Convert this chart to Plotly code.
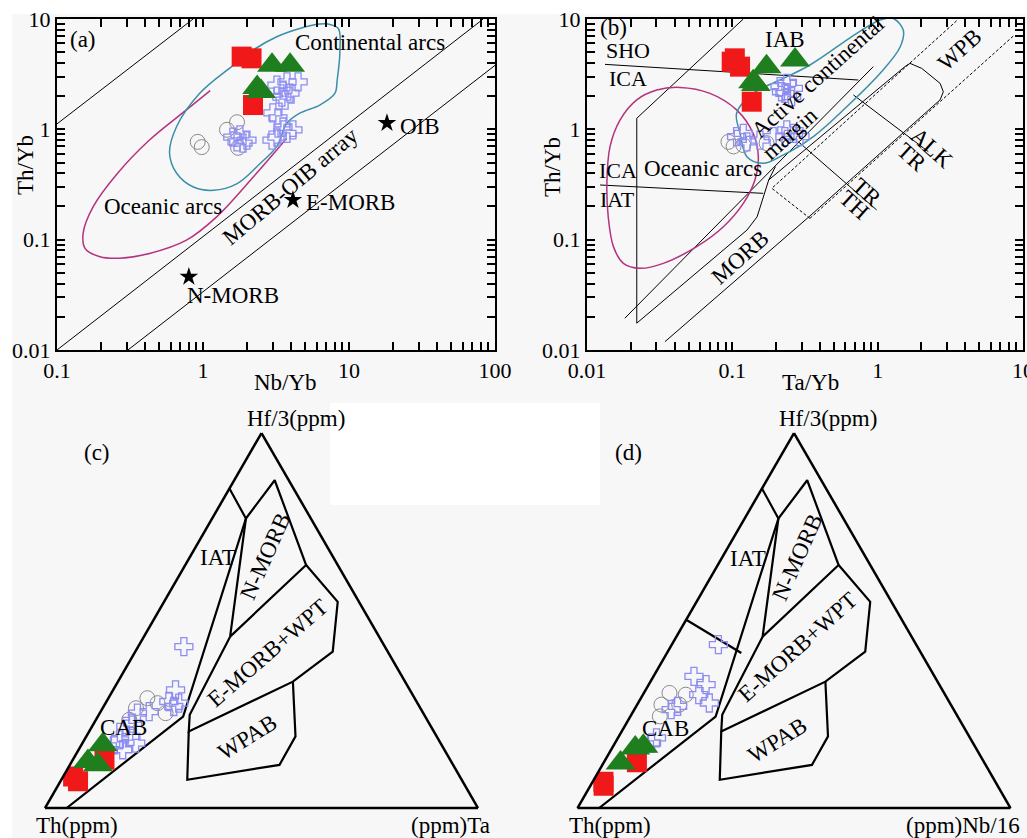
import math
import plotly.graph_objects as go

FONT = "Liberation Serif, Times New Roman, serif"
RED = "#f01818"
GREEN = "#1f7f1f"
BLUE = "#8c8cf2"
GRAY = "#8a8a8a"
MAGENTA = "#b4327e"
TEAL = "#3a8fa8"
W, H = 1027, 838

# ---------------- Panel (a): Nb/Yb vs Th/Yb ----------------
a_sq_x = [1.84, 2.15, 2.2]
a_sq_y = [4.56, 4.4, 1.66]
a_tri_x = [2.97, 3.95, 2.35, 2.5]
a_tri_y = [3.8, 3.8, 2.4, 2.2]
a_cross_x = [3.21, 3.76, 4.48, 3.53, 3.94, 3.47, 3.65, 3.01, 3.26, 3.53, 4.13, 2.97, 3.21, 3.76,
             1.60, 1.79, 2.0, 1.88, 1.71]
a_cross_y = [2.52, 2.69, 2.69, 2.27, 2.13, 1.96, 1.84, 1.41, 1.27, 1.05, 0.99, 0.80, 0.85, 0.92,
             0.85, 0.89, 0.80, 0.75, 0.77]
a_circ_x = [0.92, 0.98, 1.46, 1.71, 1.74]
a_circ_y = [0.77, 0.69, 0.99, 1.16, 0.68]
ref_nbyb = [0.80, 4.13, 18.2]          # N-MORB, E-MORB, OIB
ref_thyb = [0.046, 0.229, 1.14]

a_line1_x = [0.1, 0.855]
a_line1_y = [1.12, 10]
a_line2_x = [0.1, 83]
a_line2_y = [0.01, 10]
a_line3_x = [0.306, 100]
a_line3_y = [0.01, 3.8]

a_ocean_x = [1.12, 0.77, 0.43, 0.26, 0.177, 0.151, 0.156, 0.197, 0.27, 0.43, 0.77, 1.24, 2.21, 3.2, 3.74]
a_ocean_y = [2.24, 1.50, 0.80, 0.40, 0.199, 0.114, 0.083, 0.070, 0.068, 0.075, 0.099, 0.161, 0.37, 0.65, 0.83]
a_cont_x = [7.2, 8.45, 8.67, 8.3, 8.0, 6.3, 4.6, 3.74, 3.2, 2.46, 1.70, 1.18, 0.86, 0.66, 0.59, 0.66,
            0.95, 1.57, 2.21, 3.2, 4.6, 6.3, 7.2]
a_cont_y = [9.0, 8.2, 5.24, 2.80, 2.12, 1.66, 1.40, 1.13, 0.70, 0.49, 0.32, 0.28, 0.30, 0.40, 0.61, 1.06,
            2.12, 3.70, 5.24, 6.9, 8.2, 9.0, 9.0]

# ---------------- Panel (b): Ta/Yb vs Th/Yb ----------------
b_sq_x = [0.099, 0.113, 0.104, 0.136]
b_sq_y = [4.1, 3.7, 4.4, 1.78]
b_tri_x = [0.139, 0.172, 0.27, 0.145]
b_tri_y = [2.7, 3.7, 4.25, 2.55]
b_cross_x = [0.213, 0.237, 0.263, 0.230, 0.256, 0.218, 0.107, 0.119, 0.126, 0.155, 0.191, 0.237,
             0.263, 0.292, 0.230]
b_cross_y = [2.44, 2.61, 2.35, 2.12, 1.98, 2.19, 0.86, 0.92, 0.77, 0.80, 0.86, 0.99, 0.92, 0.86, 0.86]
b_circ_x = [0.094, 0.102, 0.119, 0.172]
b_circ_y = [0.77, 0.70, 0.72, 0.75]

b_sho_x = [0.0133, 0.736]
b_sho_y = [3.88, 2.80]
b_iat_x = [0.0123, 0.163]
b_iat_y = [0.313, 0.263]
b_lineA_x = [0.0182, 0.933]
b_lineA_y = [0.0194, 3.70]
b_arc_x = [0.119, 0.0220, 0.0220, 0.102, 0.126, 0.148, 0.164, 0.178, 0.198]
b_arc_y = [10.0, 1.26, 0.0175, 0.096, 0.122, 0.161, 0.245, 0.348, 0.459]
b_box_x = [0.178, 1.54, 1.67, 2.01, 2.69, 2.83, 2.69, 0.333, 0.0344]
b_box_y = [0.348, 3.70, 3.96, 3.57, 2.61, 2.19, 1.85, 0.159, 0.0119]
b_d1_x = [0.342, 0.187, 3.50]
b_d1_y = [0.156, 0.292, 9.66]
b_d2_x = [0.342, 8.57]
b_d2_y = [0.156, 7.0]
b_trth_x = [0.284, 0.984]
b_trth_y = [0.773, 0.186]
b_alk_x = [0.681, 2.23]
b_alk_y = [2.05, 0.628]
b_ocean_x = [0.0436, 0.0702, 0.107, 0.139, 0.151, 0.143, 0.119, 0.0868, 0.0569, 0.0335, 0.0232, 0.0178,
             0.0152, 0.0140, 0.0137, 0.0144, 0.0169, 0.0220, 0.0302, 0.0436]
b_ocean_y = [2.40, 2.12, 1.50, 0.92, 0.565, 0.348, 0.213, 0.131, 0.0865, 0.061, 0.055, 0.061, 0.0865,
             0.161, 0.324, 0.697, 1.22, 1.85, 2.27, 2.40]
b_cont_x = [1.28, 1.50, 1.43, 1.04, 0.612, 0.361, 0.213, 0.163, 0.126, 0.113, 0.107, 0.139, 0.213,
            0.342, 0.718, 1.04, 1.28]
b_cont_y = [10.1, 7.94, 5.61, 3.22, 1.60, 0.86, 0.565, 0.492, 0.565, 0.92, 1.40, 2.12, 2.80, 3.83,
            7.41, 9.8, 10.1]

# ---------------- Panels (c), (d): Wood (1980) ternaries (a = Hf/3, b = Th, c = Ta or Nb/16) ----
fD_a = [0.852, 0.772, 0.244, 0.0]
fD_b = [0.148, 0.150, 0.559, 0.950]
fD_c = [0.0, 0.078, 0.197, 0.050]
fN_a = [0.772, 0.874, 0.648, 0.457, 0.772]
fN_b = [0.150, 0.0325, 0.073, 0.344, 0.150]
fN_c = [0.078, 0.0935, 0.279, 0.199, 0.078]
fE_a = [0.648, 0.550, 0.417, 0.337, 0.204, 0.2485, 0.457]
fE_b = [0.073, 0.049, 0.127, 0.259, 0.566, 0.5415, 0.344]
fE_c = [0.279, 0.401, 0.456, 0.404, 0.230, 0.210, 0.199]
fW_a = [0.337, 0.191, 0.115, 0.0754, 0.204]
fW_b = [0.259, 0.326, 0.401, 0.634, 0.566]
fW_c = [0.404, 0.483, 0.484, 0.291, 0.230]
fIC_a = [0.502, 0.4133]
fIC_b = [0.498, 0.415]
fIC_c = [0.0, 0.1716]

c_sq = dict(a=[0.0843, 0.071, 0.1287], b=[0.893, 0.888, 0.798], c=[0.0228, 0.0408, 0.073])
c_tri = dict(a=[0.1686, 0.1242, 0.1153], b=[0.782, 0.839, 0.820], c=[0.0493, 0.0371, 0.0644])
c_cross = dict(a=[0.430, 0.315, 0.284, 0.2795, 0.2706, 0.2573, 0.2529, 0.2263, 0.2174, 0.1908, 0.1819,
                  0.173, 0.1686, 0.1553],
               b=[0.464, 0.541, 0.572, 0.551, 0.567, 0.631, 0.660, 0.685, 0.704, 0.706, 0.737, 0.704,
                  0.755, 0.743],
               c=[0.1056, 0.144, 0.144, 0.169, 0.162, 0.112, 0.087, 0.089, 0.078, 0.103, 0.081, 0.123,
                  0.076, 0.1018])
c_circ = dict(a=[0.2928, 0.2662, 0.2351, 0.2529, 0.2795], b=[0.617, 0.657, 0.688, 0.595, 0.600],
              c=[0.090, 0.077, 0.077, 0.152, 0.120])

d_sq = dict(a=[0.0596, 0.1218, 0.070], b=[0.910, 0.802, 0.905], c=[0.0305, 0.0763, 0.025])
d_tri = dict(a=[0.12, 0.16, 0.1644], b=[0.8405, 0.787, 0.766], c=[0.0395, 0.0534, 0.070])
d_cross = dict(a=[0.4356, 0.351, 0.3289, 0.3022, 0.28, 0.2711, 0.2622, 0.1867, 0.1733],
               b=[0.457, 0.5555, 0.5386, 0.569, 0.5556, 0.633, 0.6526, 0.724, 0.742],
               c=[0.1077, 0.0935, 0.1325, 0.129, 0.1644, 0.0957, 0.0852, 0.089, 0.0844])
d_circ = dict(a=[0.3067, 0.3022, 0.2756, 0.2756, 0.2444], b=[0.634, 0.599, 0.668, 0.627, 0.688],
              c=[0.059, 0.099, 0.056, 0.097, 0.068])

# axis decades (log10 exponents) of the two log-log panels
A_XDEC = (-1, 2)
A_YDEC = (-2, 1)
B_XDEC = (-2, 1)
B_YDEC = (-2, 1)


def px(xp):
    return xp / W


def py(yp):
    return 1 - yp / H


A_XPIX = (57, 495)
B_XPIX = (587, 1023)
Y_PIX = (19, 350)

fig = go.Figure()

SQ = dict(symbol="square", size=20, color=RED)
TRI = dict(symbol="triangle-up", size=26, color=GREEN)
CROSS = dict(symbol="cross-open", size=15, color=BLUE, line=dict(width=1.3, color=BLUE))
CIRC = dict(symbol="circle-open", size=15, color=GRAY, line=dict(width=1, color=GRAY))
DASH = "3px,2px"


def line(x, y, xa, ya, color="black", width=1, dash="solid", shape="linear"):
    fig.add_trace(go.Scatter(x=x, y=y, xaxis=xa, yaxis=ya, mode="lines",
                             line=dict(color=color, width=width, dash=dash, shape=shape,
                                       smoothing=1.0 if shape == "spline" else None),
                             hoverinfo="skip"))


def pts(x, y, xa, ya, marker):
    fig.add_trace(go.Scatter(x=x, y=y, xaxis=xa, yaxis=ya, mode="markers", marker=marker))


# panel (a)
line(a_line1_x, a_line1_y, "x", "y")
line(a_line2_x, a_line2_y, "x", "y")
line(a_line3_x, a_line3_y, "x", "y")
line(a_ocean_x, a_ocean_y, "x", "y", MAGENTA, 1.5, shape="spline")
line(a_cont_x, a_cont_y, "x", "y", TEAL, 1.5, shape="spline")
pts(a_circ_x, a_circ_y, "x", "y", CIRC)
pts(a_cross_x, a_cross_y, "x", "y", CROSS)
pts(a_sq_x, a_sq_y, "x", "y", SQ)
pts(a_tri_x, a_tri_y, "x", "y", TRI)
pts(ref_nbyb, ref_thyb, "x", "y", dict(symbol="star", size=14, color="black"))

# panel (b)
line(b_sho_x, b_sho_y, "x2", "y2")
line(b_iat_x, b_iat_y, "x2", "y2")
line(b_lineA_x, b_lineA_y, "x2", "y2")
line(b_arc_x, b_arc_y, "x2", "y2")
line(b_box_x, b_box_y, "x2", "y2")
line(b_d1_x, b_d1_y, "x2", "y2", dash=DASH)
line(b_d2_x, b_d2_y, "x2", "y2", dash=DASH)
line(b_trth_x, b_trth_y, "x2", "y2")
line(b_alk_x, b_alk_y, "x2", "y2")
line(b_ocean_x, b_ocean_y, "x2", "y2", MAGENTA, 1.5, shape="spline")
line(b_cont_x, b_cont_y, "x2", "y2", TEAL, 1.5, shape="spline")
pts(b_circ_x, b_circ_y, "x2", "y2", CIRC)
pts(b_cross_x, b_cross_y, "x2", "y2", CROSS)
pts(b_sq_x, b_sq_y, "x2", "y2", SQ)
pts(b_tri_x, b_tri_y, "x2", "y2", TRI)


# ternaries
def tline(a, b, c, sub):
    fig.add_trace(go.Scatterternary(a=a, b=b, c=c, subplot=sub, mode="lines",
                                    line=dict(color="black", width=2.2), hoverinfo="skip"))


def tpts(d, sub, marker):
    fig.add_trace(go.Scatterternary(a=d["a"], b=d["b"], c=d["c"], subplot=sub, mode="markers",
                                    marker=marker))


for sub in ["ternary", "ternary2"]:
    tline(fD_a, fD_b, fD_c, sub)
    tline(fN_a, fN_b, fN_c, sub)
    tline(fE_a, fE_b, fE_c, sub)
    tline(fW_a, fW_b, fW_c, sub)
tline(fIC_a, fIC_b, fIC_c, "ternary2")

tpts(c_circ, "ternary", CIRC)
tpts(c_cross, "ternary", CROSS)
tpts(c_sq, "ternary", SQ)
tpts(c_tri, "ternary", TRI)
tpts(d_circ, "ternary2", CIRC)
tpts(d_cross, "ternary2", CROSS)
tpts(d_sq, "ternary2", SQ)
tpts(d_tri, "ternary2", TRI)

TICKFONT = dict(family=FONT, size=22, color="black")


def log_ticks(e0, e1):
    vals, texts = [], []
    for e in range(e0, e1 + 1):
        for k in range(1, 10):
            if e == e1 and k > 1:
                break
            v = k * 10.0 ** e
            vals.append(v)
            texts.append(("%g" % v) if k == 1 else "")
    return vals, texts


def logaxis(dec, domain, anchor):
    vals, texts = log_ticks(*dec)
    return dict(type="log", range=list(dec), domain=domain, anchor=anchor, automargin=False,
                showline=True, linecolor="black", linewidth=2, mirror="ticks",
                tickmode="array", tickvals=vals, ticktext=texts,
                ticks="inside", ticklen=8, tickwidth=2.2, tickcolor="black",
                ticklabeloverflow="allow", layer="above traces",
                showgrid=False, zeroline=False, tickfont=TICKFONT)


ydom = [py(Y_PIX[1]), py(Y_PIX[0])]
layout = dict(
    width=W, height=H, margin=dict(l=0, r=0, t=0, b=0, pad=0, autoexpand=False),
    paper_bgcolor="#f7f7f7", plot_bgcolor="#f7f7f7", showlegend=False,
    font=dict(family=FONT, color="black"),
    xaxis=logaxis(A_XDEC, [px(A_XPIX[0]), px(A_XPIX[1])], "y"),
    yaxis=logaxis(A_YDEC, ydom, "x"),
    xaxis2=logaxis(B_XDEC, [px(B_XPIX[0]), px(B_XPIX[1])], "y2"),
    yaxis2=logaxis(B_YDEC, ydom, "x2"),
)

tax = dict(showticklabels=False, ticks="", showgrid=False, showline=True, linecolor="black",
           linewidth=2.5, title=dict(text=""))
for name, cx in [("ternary", 261.5), ("ternary2", 794)]:
    layout[name] = dict(sum=1, bgcolor="rgba(0,0,0,0)",
                        domain=dict(x=[px(cx - 217), px(cx + 217)], y=[py(808), py(433)]),
                        aaxis=tax, baxis=tax, caxis=tax)

fig.update_layout(**layout)

# background patches (white areas of the scanned figure)
for x0, y0, x1, y1 in [(330, 403, 600, 505), (0, 0, W, 14), (0, 0, 12, H)]:
    fig.add_shape(type="rect", xref="paper", yref="paper", x0=px(x0), x1=px(x1), y0=py(y1), y1=py(y0),
                  fillcolor="white", line=dict(width=0), layer="below")


def ann(x, y, text, xref="paper", yref="paper", angle=0, size=23, xanchor="center", yanchor="middle"):
    fig.add_annotation(x=x, y=y, text=text, xref=xref, yref=yref, textangle=angle, showarrow=False,
                       xanchor=xanchor, yanchor=yanchor, borderpad=0,
                       font=dict(family=FONT, size=size, color="black"))


L = math.log10
# axis titles
ann(px(285), py(382), "Nb/Yb")
ann(px(25), py(165), "Th/Yb", angle=-90)
ann(px(810), py(382), "Ta/Yb")
ann(px(553), py(167), "Th/Yb", angle=-90)
# (a) labels
ann(L(0.151), L(6.46), "(a)", "x", "y")
ann(L(13.9), L(6.06), "Continental arcs", "x", "y")
ann(L(0.53), L(0.198), "Oceanic arcs", "x", "y")
ann(L(3.95), L(0.306), "MORB-OIB array", "x", "y", angle=-40)
ann(L(30.6), L(1.07), "OIB", "x", "y")
ann(L(10.2), L(0.215), "E-MORB", "x", "y")
ann(L(1.60), L(0.0315), "N-MORB", "x", "y")
# (b) labels
ann(L(0.0151), L(8.3), "(b)", "x2", "y2")
ann(L(0.231), L(6.46), "IAB", "x2", "y2")
ann(L(0.0191), L(3.95), "SHO", "x2", "y2", yanchor="bottom", size=22)
ann(L(0.0191), L(3.80), "ICA", "x2", "y2", yanchor="top", size=22)
ann(L(0.0163), L(0.318), "ICA", "x2", "y2", yanchor="bottom", size=22)
ann(L(0.0163), L(0.308), "IAT", "x2", "y2", yanchor="top", size=22)
ann(L(0.0628), L(0.446), "Oceanic arcs", "x2", "y2")
ann(L(0.383), L(2.98), "Active continental", "x2", "y2", angle=-42)
ann(L(0.249), L(0.925), "margin", "x2", "y2", angle=-42)
ann(L(0.113), L(0.0695), "MORB", "x2", "y2", angle=-42)
ann(L(3.69), L(5.24), "WPB", "x2", "y2", angle=-42)
ann(L(2.37), L(0.676), "ALK", "x2", "y2", angle=42)
ann(L(1.73), L(0.561), "TR", "x2", "y2", angle=42)
ann(L(0.845), L(0.270), "TR", "x2", "y2", angle=42)
ann(L(0.698), L(0.206), "TH", "x2", "y2", angle=42)
# (c) labels
ann(px(296), py(418), "Hf/3(ppm)")
ann(px(97), py(453), "(c)")
ann(px(77), py(825), "Th(ppm)")
ann(px(450), py(825), "(ppm)Ta")
ann(px(218), py(557), "IAT")
ann(px(265), py(556), "N-MORB", angle=-66)
ann(px(267), py(653), "E-MORB+WPT", angle=-41)
ann(px(247), py(737), "WPAB", angle=-32)
ann(px(123), py(727), "CAB")
# (d) labels
ann(px(828), py(418), "Hf/3(ppm)")
ann(px(628), py(453), "(d)")
ann(px(610), py(825), "Th(ppm)")
ann(px(963), py(825), "(ppm)Nb/16")
ann(px(748), py(558), "IAT")
ann(px(797), py(557), "N-MORB", angle=-66)
ann(px(797), py(647), "E-MORB+WPT", angle=-42)
ann(px(777), py(740), "WPAB", angle=-32)
ann(px(665), py(728), "CAB")

fig.write_html("out.html")
